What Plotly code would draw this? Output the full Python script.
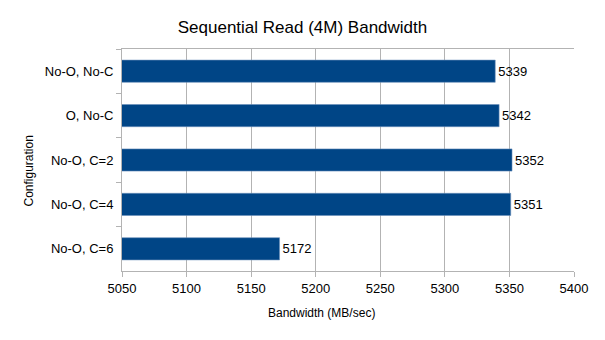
import plotly.graph_objects as go

categories = ["No-O, No-C", "O, No-C", "No-O, C=2", "No-O, C=4", "No-O, C=6"]
values = [5339, 5342, 5352, 5351, 5172]
x_ticks = [5050, 5100, 5150, 5200, 5250, 5300, 5350, 5400]

FONT = "Liberation Sans, Arial, sans-serif"

fig = go.Figure(go.Bar(
    y=categories, x=values, orientation="h",
    marker=dict(color="#004586", line=dict(color="#6a8fbb", width=0.6)),
    width=0.5,
    text=[str(v) for v in values], textposition="outside",
    textfont=dict(family=FONT, size=13, color="#000000"),
    cliponaxis=False,
))

fig.update_layout(
    width=605, height=340,
    margin=dict(l=122, r=31, t=49, b=69),
    paper_bgcolor="white", plot_bgcolor="white",
    showlegend=False,
    font=dict(family=FONT, size=13, color="#000000"),
    title=dict(text="Sequential Read (4M) Bandwidth", x=0.5, xanchor="center",
               y=1 - 27/340, yanchor="middle", font=dict(family=FONT, size=17, color="#000000")),
    bargap=0.5,
    annotations=[
        dict(text="Bandwidth (MB/sec)", xref="paper", yref="paper",
             x=(321 - 122) / 452, y=-(313 - 271) / 222, xanchor="center", yanchor="middle",
             showarrow=False, font=dict(family=FONT, size=12, color="#000000")),
        dict(text="Configuration", xref="paper", yref="paper",
             x=-(122 - 28) / 452, y=(271 - 171.5) / 222, xanchor="center", yanchor="middle",
             textangle=-90, showarrow=False, font=dict(family=FONT, size=12, color="#000000")),
    ],
)

fig.update_xaxes(
    range=[5050, 5400], tickvals=x_ticks, ticktext=[str(t) for t in x_ticks],
    showgrid=True, gridcolor="#b3b3b3", gridwidth=1,
    showline=True, linecolor="#b3b3b3", linewidth=1, mirror=True,
    ticks="outside", ticklen=5, tickcolor="#b3b3b3",
    zeroline=False,
    tickfont=dict(family=FONT, size=13, color="#000000"),
)
fig.update_yaxes(
    categoryorder="array", categoryarray=categories, autorange="reversed",
    showgrid=False,
    showline=True, linecolor="#b3b3b3", linewidth=1,
    ticks="outside", ticklen=5, tickcolor="#b3b3b3", tickson="boundaries",
    ticklabelstandoff=5,
    tickfont=dict(family=FONT, size=13, color="#000000"),
)

fig.write_html("out.html")
